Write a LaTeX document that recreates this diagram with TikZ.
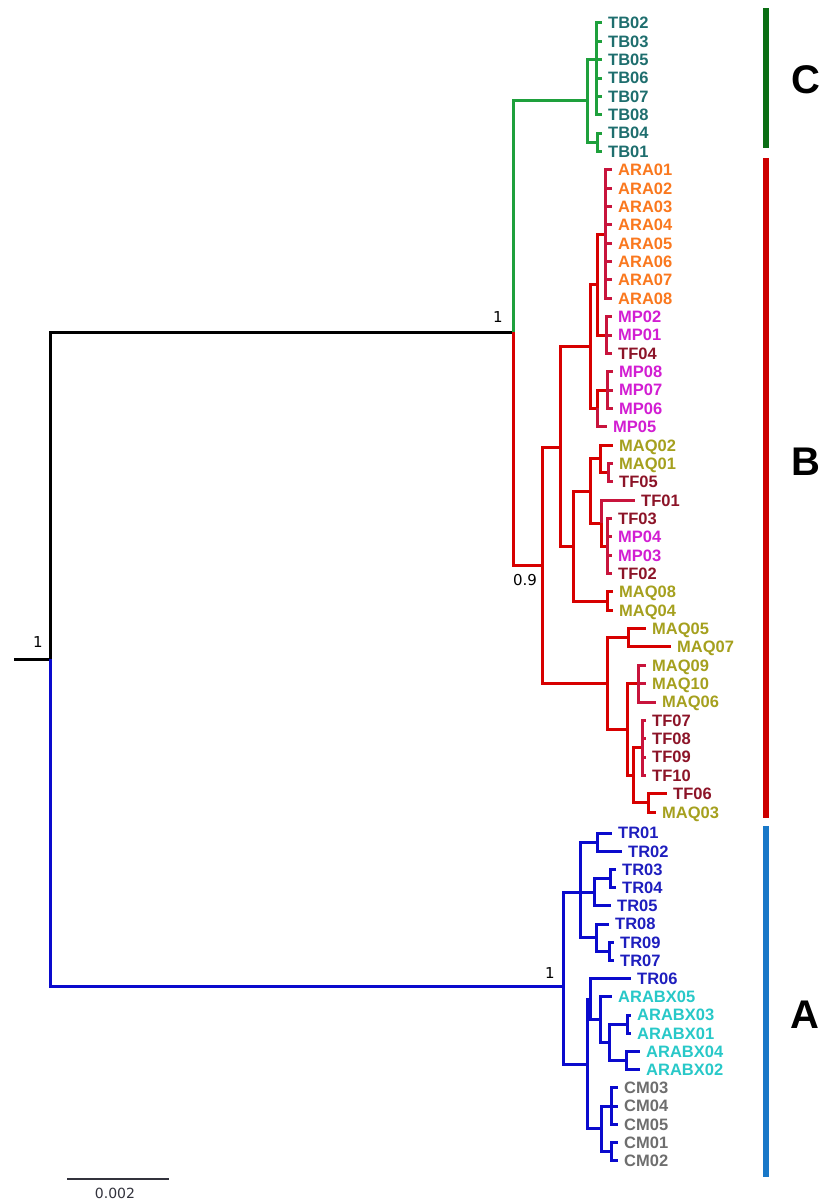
\documentclass[tikz,border=0pt]{standalone}
\usepackage{fontspec}
\setmainfont{Liberation Sans}
\newfontfamily\dejavu{DejaVu Sans}
\definecolor{cgreen}{RGB}{30,160,60}
\definecolor{cred}{RGB}{215,0,0}
\definecolor{ccrim}{RGB}{200,20,60}
\definecolor{cblue}{RGB}{10,10,205}
\definecolor{barg}{RGB}{10,110,20}
\definecolor{barr}{RGB}{205,0,0}
\definecolor{barb}{RGB}{25,120,200}
\definecolor{tTB}{RGB}{30,110,110}
\definecolor{tARA}{RGB}{250,120,30}
\definecolor{tMP}{RGB}{210,30,210}
\definecolor{tTF}{RGB}{140,20,40}
\definecolor{tMAQ}{RGB}{165,160,30}
\definecolor{tTR}{RGB}{30,30,190}
\definecolor{tAX}{RGB}{40,200,200}
\definecolor{tCM}{RGB}{110,110,110}
\definecolor{cscale}{RGB}{50,50,60}
\tikzset{
 br/.style={line width=3pt, line join=miter},
 bk/.style={br, draw=black},
 gr/.style={br, draw=cgreen},
 rd/.style={br, draw=cred},
 cr/.style={br, draw=ccrim},
 bl/.style={br, draw=cblue},
 leaflabel/.style={anchor=west, inner sep=0pt, font=\bfseries\fontsize{16.5}{16.5}\selectfont, text height=11.8pt, text depth=0pt},
 boot/.style={inner sep=0pt, font=\dejavu\fontsize{15}{15}\selectfont},
 clade/.style={inner sep=0pt, font=\bfseries\fontsize{40}{40}\selectfont},
}
\newcommand\leaf[4]{\coordinate (t#1) at (#2,#3); \node[leaflabel,text=#4] (#1) at ({#2+6},#3) {#1};}
\begin{document}
\begin{tikzpicture}[x=1pt,y=-1pt]
\useasboundingbox (0,0) rectangle (823,1201);
% ---------- leaves ----------
\leaf{TB02}{602}{23.0}{tTB}
\leaf{TB03}{602}{41.4}{tTB}
\leaf{TB05}{602}{59.7}{tTB}
\leaf{TB06}{602}{78.1}{tTB}
\leaf{TB07}{602}{96.4}{tTB}
\leaf{TB08}{602}{114.8}{tTB}
\leaf{TB04}{602}{133.1}{tTB}
\leaf{TB01}{602}{151.5}{tTB}
\leaf{ARA01}{612}{169.8}{tARA}
\leaf{ARA02}{612}{188.2}{tARA}
\leaf{ARA03}{612}{206.5}{tARA}
\leaf{ARA04}{612}{224.9}{tARA}
\leaf{ARA05}{612}{243.2}{tARA}
\leaf{ARA06}{612}{261.6}{tARA}
\leaf{ARA07}{612}{279.9}{tARA}
\leaf{ARA08}{612}{298.3}{tARA}
\leaf{MP02}{612}{316.6}{tMP}
\leaf{MP01}{612}{335.0}{tMP}
\leaf{TF04}{612}{353.3}{tTF}
\leaf{MP08}{613}{371.7}{tMP}
\leaf{MP07}{613}{390.0}{tMP}
\leaf{MP06}{613}{408.4}{tMP}
\leaf{MP05}{607}{426.7}{tMP}
\leaf{MAQ02}{613}{445.1}{tMAQ}
\leaf{MAQ01}{613}{463.4}{tMAQ}
\leaf{TF05}{613}{481.8}{tTF}
\leaf{TF01}{635}{500.1}{tTF}
\leaf{TF03}{612}{518.5}{tTF}
\leaf{MP04}{612}{536.8}{tMP}
\leaf{MP03}{612}{555.2}{tMP}
\leaf{TF02}{612}{573.5}{tTF}
\leaf{MAQ08}{613}{591.9}{tMAQ}
\leaf{MAQ04}{613}{610.2}{tMAQ}
\leaf{MAQ05}{646}{628.6}{tMAQ}
\leaf{MAQ07}{671}{646.9}{tMAQ}
\leaf{MAQ09}{646}{665.3}{tMAQ}
\leaf{MAQ10}{646}{683.6}{tMAQ}
\leaf{MAQ06}{656}{702.0}{tMAQ}
\leaf{TF07}{646}{720.3}{tTF}
\leaf{TF08}{646}{738.7}{tTF}
\leaf{TF09}{646}{757.0}{tTF}
\leaf{TF10}{646}{775.4}{tTF}
\leaf{TF06}{667}{793.7}{tTF}
\leaf{MAQ03}{656}{812.1}{tMAQ}
\leaf{TR01}{612}{833.0}{tTR}
\leaf{TR02}{622}{851.2}{tTR}
\leaf{TR03}{616}{869.4}{tTR}
\leaf{TR04}{616}{887.6}{tTR}
\leaf{TR05}{611}{905.8}{tTR}
\leaf{TR08}{609}{924.0}{tTR}
\leaf{TR09}{614}{942.2}{tTR}
\leaf{TR07}{614}{960.4}{tTR}
\leaf{TR06}{631}{978.6}{tTR}
\leaf{ARABX05}{612}{996.8}{tAX}
\leaf{ARABX03}{631}{1015.0}{tAX}
\leaf{ARABX01}{631}{1033.2}{tAX}
\leaf{ARABX04}{640}{1051.4}{tAX}
\leaf{ARABX02}{640}{1069.6}{tAX}
\leaf{CM03}{618}{1087.8}{tCM}
\leaf{CM04}{618}{1106.0}{tCM}
\leaf{CM05}{618}{1124.2}{tCM}
\leaf{CM01}{618}{1142.4}{tCM}
\leaf{CM02}{618}{1160.6}{tCM}
% ---------- internal nodes ----------
\coordinate (r0) at (14,659);
\coordinate (root) at (50,659);
\coordinate (nTop) at (513,332);
\coordinate (nA) at (563,986);
% clade C
\coordinate (cC) at (587,101);
\coordinate (cT1) at (596,59.7);
\coordinate (cT2) at (597,142.3);
% clade B
\coordinate (nB0) at (542,565.6);
\coordinate (nB1) at (560,447.5);
\coordinate (nB2) at (607,683.6);
\coordinate (nAM) at (590,346.5);
\coordinate (nMQ) at (573,546);
\coordinate (nAM1) at (597,284.6);
\coordinate (nMP2) at (597,408.4);
\coordinate (nARA) at (605,234);
\coordinate (nMP1) at (606,335);
\coordinate (nMP2a) at (607,390);
\coordinate (nMQa) at (590,491);
\coordinate (nMQb) at (607,601);
\coordinate (nMQa1) at (600,458.9);
\coordinate (nMQa2) at (608,472.6);
\coordinate (nTF) at (601,523);
\coordinate (nTF2) at (607,546);
\coordinate (nB2a) at (628,637.8);
\coordinate (nB2b) at (627,729.5);
\coordinate (nB2c) at (638,683.6);
\coordinate (nB2d) at (633,775.4);
\coordinate (nTF7) at (642,747.9);
\coordinate (nB2e) at (648,802.9);
% clade A
\coordinate (nA1) at (580,892.2);
\coordinate (nA2) at (587,1064);
\coordinate (nTR12) at (597,842.1);
\coordinate (nTR35) at (594,892.2);
\coordinate (nTR34) at (610,878.5);
\coordinate (nTR87) at (596,937.7);
\coordinate (nTR97) at (609,951.3);
\coordinate (nA3) at (590,999.1);
\coordinate (nAX) at (600,1019.6);
\coordinate (nAX2) at (609,1042.3);
\coordinate (nAX31) at (627,1024.1);
\coordinate (nAX42) at (626,1060.5);
\coordinate (nCM) at (601,1128.8);
\coordinate (nCM1) at (611,1106);
\coordinate (nCM2) at (611,1151.5);
% ---------- branches ----------
\draw[bk] (r0) -- (root);
\draw[bk] (root) |- (nTop);
\draw[bl] (root) |- (nA);
% C
\draw[gr] (nTop) |- (cC);
\draw[gr] (cC) |- (cT1);
\draw[gr] (cC) |- (cT2);
\foreach \l in {TB02,TB03,TB05,TB06,TB07,TB08} \draw[gr] (cT1) |- (t\l);
\foreach \l in {TB04,TB01} \draw[gr] (cT2) |- (t\l);
% B
\draw[rd] (nTop) |- (nB0);
\draw[rd] (nB0) |- (nB1);
\draw[rd] (nB0) |- (nB2);
\draw[rd] (nB1) |- (nAM);
\draw[rd] (nB1) |- (nMQ);
\draw[rd] (nAM) |- (nAM1);
\draw[rd] (nAM) |- (nMP2);
\draw[rd] (nAM1) |- (nARA);
\draw[rd] (nAM1) |- (nMP1);
\foreach \l in {ARA01,ARA02,ARA03,ARA04,ARA05,ARA06,ARA07,ARA08} \draw[cr] (nARA) |- (t\l);
\foreach \l in {MP02,MP01,TF04} \draw[cr] (nMP1) |- (t\l);
\draw[rd] (nMP2) |- (nMP2a);
\draw[cr] (nMP2) |- (tMP05);
\foreach \l in {MP08,MP07,MP06} \draw[cr] (nMP2a) |- (t\l);
\draw[rd] (nMQ) |- (nMQa);
\draw[rd] (nMQ) |- (nMQb);
\draw[rd] (nMQa) |- (nMQa1);
\draw[rd] (nMQa) |- (nTF);
\draw[rd] (nMQa1) |- (tMAQ02);
\draw[rd] (nMQa1) |- (nMQa2);
\foreach \l in {MAQ01,TF05} \draw[cr] (nMQa2) |- (t\l);
\draw[cr] (nTF) |- (tTF01);
\draw[rd] (nTF) |- (nTF2);
\foreach \l in {TF03,MP04,MP03,TF02} \draw[cr] (nTF2) |- (t\l);
\foreach \l in {MAQ08,MAQ04} \draw[rd] (nMQb) |- (t\l);
\draw[rd] (nB2) |- (nB2a);
\draw[rd] (nB2) |- (nB2b);
\foreach \l in {MAQ05,MAQ07} \draw[rd] (nB2a) |- (t\l);
\draw[rd] (nB2b) |- (nB2c);
\draw[rd] (nB2b) |- (nB2d);
\foreach \l in {MAQ09,MAQ10,MAQ06} \draw[cr] (nB2c) |- (t\l);
\draw[rd] (nB2d) |- (nTF7);
\draw[rd] (nB2d) |- (nB2e);
\foreach \l in {TF07,TF08,TF09,TF10} \draw[cr] (nTF7) |- (t\l);
\foreach \l in {TF06,MAQ03} \draw[rd] (nB2e) |- (t\l);
% A
\draw[bl] (nA) |- (nA1);
\draw[bl] (nA) |- (nA2);
\draw[bl] (nA1) |- (nTR12);
\draw[bl] (nA1) |- (nTR35);
\draw[bl] (nA1) |- (nTR87);
\foreach \l in {TR01,TR02} \draw[bl] (nTR12) |- (t\l);
\draw[bl] (nTR35) |- (nTR34);
\draw[bl] (nTR35) |- (tTR05);
\foreach \l in {TR03,TR04} \draw[bl] (nTR34) |- (t\l);
\draw[bl] (nTR87) |- (tTR08);
\draw[bl] (nTR87) |- (nTR97);
\foreach \l in {TR09,TR07} \draw[bl] (nTR97) |- (t\l);
\draw[bl] (nA2) |- (nA3);
\draw[bl] (nA2) |- (nCM);
\draw[bl] (nA3) |- (tTR06);
\draw[bl] (nA3) |- (nAX);
\draw[bl] (nAX) |- (tARABX05);
\draw[bl] (nAX) |- (nAX2);
\draw[bl] (nAX2) |- (nAX31);
\draw[bl] (nAX2) |- (nAX42);
\foreach \l in {ARABX03,ARABX01} \draw[bl] (nAX31) |- (t\l);
\foreach \l in {ARABX04,ARABX02} \draw[bl] (nAX42) |- (t\l);
\draw[bl] (nCM) |- (nCM1);
\draw[bl] (nCM) |- (nCM2);
\foreach \l in {CM03,CM04,CM05} \draw[bl] (nCM1) |- (t\l);
\foreach \l in {CM01,CM02} \draw[bl] (nCM2) |- (t\l);
% ---------- support values ----------
\node[boot] (bsRoot) at (38,642) {1};
\node[boot] (bsTop) at (498,317) {1};
\node[boot] (bsB) at (525,580) {0.9};
\node[boot] (bsA) at (550,973) {1};
% ---------- clade bars ----------
\fill[barg] (763,8) rectangle (769,148);
\fill[barr] (763,158) rectangle (769,818);
\fill[barb] (763,826) rectangle (769,1177);
\node[clade] (labC) at (806,80) {C};
\node[clade] (labB) at (806,462) {B};
\node[clade] (labA) at (805,1015) {A};
% ---------- scale bar ----------
\coordinate (s1) at (67,1179);
\coordinate (s2) at (169,1179);
\draw[line width=1.2pt, cscale] (s1) -- (s2);
\node[inner sep=0pt, text=cscale, font=\dejavu\fontsize{14}{14}\selectfont] (scl) at (115,1193) {0.002};
\end{tikzpicture}
\end{document}
